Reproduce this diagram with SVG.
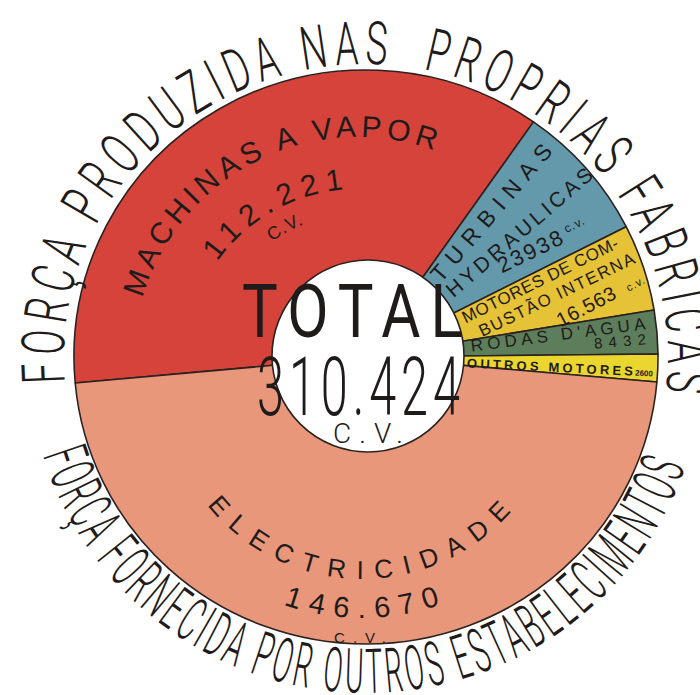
<svg xmlns="http://www.w3.org/2000/svg" width="700" height="695" viewBox="0 0 700 695">
<style>
.sec{stroke:#2b2220;stroke-width:1.6;stroke-linejoin:round}
.outer{font-family:Roboto,"Liberation Sans",sans-serif;font-weight:300;font-size:60px;fill:#1f1b1a}
.lbl{font-family:"Liberation Sans",Arial,sans-serif;fill:#1f1b1a}
.big{font-family:Roboto,"Liberation Sans",sans-serif;fill:#1f1b1a}
</style>
<defs>
<path id="topArc" d="M65.1 382.5 A302 293 0 1 1 663.4 407.9"/>
<path id="botArc" d="M42.8 455.2 A338 336 0 0 0 689.2 455.2"/>
<path id="machArc" d="M142.3 298.1 A225 225 0 0 1 438.6 151.9"/>
<path id="numArc" d="M217.2 261.5 A173 173 0 0 1 345.9 189.4"/>
<path id="cvArc" d="M266.1 246 A148 148 0 0 1 311.3 221.6"/>
<path id="elecArc" d="M207.3 505.2 A199 199 0 0 0 514.4 507.9"/>
<path id="elecNum" d="M283.3 604.6 A238 238 0 0 0 442.6 603.9"/>
</defs>
<rect width="700" height="695" fill="#fff"/>
<g id="sectors">
<path id="machinas" class="sec" fill="#d5433a" d="M366 357 L75.2 383 A292 287 0 0 1 533.5 121.9 Z"/>
<path id="turbinas" class="sec" fill="#6399ab" d="M366 357 L533.5 121.9 A292 287 0 0 1 626.2 226.7 Z"/>
<path id="motores" class="sec" fill="#e6c237" d="M366 357 L626.2 226.7 A292 287 0 0 1 654.1 310 Z"/>
<path id="rodas" class="sec" fill="#5d7e5b" d="M366 357 L654.1 310 A292 287 0 0 1 658 354 Z"/>
<path id="outros" class="sec" fill="#ebd62f" d="M366 357 L658 354 A292 287 0 0 1 656.9 382 Z"/>
<path id="electricidade" class="sec" fill="#e8977a" d="M366 357 L656.9 382 A292 287 0 0 1 75.2 383 Z"/>
</g>
<g id="centre">
<circle cx="368" cy="356" r="96" fill="#fff" stroke="#2b2220" stroke-width="1.6"/>
</g>
<g id="titles" class="outer">
<text letter-spacing="10"><textPath href="#topArc" textLength="1000" lengthAdjust="spacingAndGlyphs">FORÇA PRODUZIDA NAS&#160; PROPRIAS FABRICAS</textPath></text>
<text letter-spacing="8" font-size="62"><textPath href="#botArc" textLength="850" lengthAdjust="spacingAndGlyphs">FORÇA FORNECIDA POR OUTROS ESTABELECIMENTOS</textPath></text>
</g>
<g id="labels" class="lbl">
<text font-size="30"><textPath href="#machArc" textLength="366" lengthAdjust="spacing">MACHINAS A VAPOR</textPath></text>
<text font-size="30"><textPath href="#numArc" textLength="150" lengthAdjust="spacing">112.221</textPath></text>
<text font-size="18"><textPath href="#cvArc" startOffset="50%" text-anchor="middle" letter-spacing="1">C.V.</textPath></text>
<text font-size="26"><textPath href="#elecArc" textLength="346" lengthAdjust="spacing">ELECTRICIDADE</textPath></text>
<text font-size="29"><textPath href="#elecNum" textLength="160" lengthAdjust="spacing">146.670</textPath></text>
<text font-size="15" x="364" y="643" text-anchor="middle" letter-spacing="8">C.V.</text>
<text font-size="23" text-anchor="middle" transform="translate(491 212.5) rotate(-49.4)" y="8.2" textLength="173" lengthAdjust="spacing">TURBINAS</text>
<text font-size="21" text-anchor="middle" transform="translate(519 232) rotate(-40.7)" y="7.5" textLength="186" lengthAdjust="spacing">HYDRAULICAS</text>
<text font-size="22" text-anchor="middle" transform="translate(530 251.5) rotate(-25.8)" y="7.5" textLength="70" lengthAdjust="spacing">23938</text>
<text font-size="12" text-anchor="middle" transform="translate(575 225.5) rotate(-25.8)" y="3" letter-spacing="1">c.v.</text>
<text font-size="17" text-anchor="middle" transform="translate(540 280) rotate(-26.3)" y="6" textLength="172" lengthAdjust="spacing">MOTORES DE COM-</text>
<text font-size="17" text-anchor="middle" transform="translate(556.5 294.5) rotate(-25.8)" y="6" textLength="171" lengthAdjust="spacing">BUSTÃO INTERNA</text>
<text font-size="20" text-anchor="middle" transform="translate(586 306.5) rotate(-27.4)" y="7" textLength="64" lengthAdjust="spacing">16.563</text>
<text font-size="11" text-anchor="middle" transform="translate(636 284.5) rotate(-27.4)" y="3" letter-spacing="1">c.v.</text>
<text font-size="17" text-anchor="middle" transform="translate(558 334.5) rotate(-7.3)" y="6" textLength="176" lengthAdjust="spacing">RODAS D'AGUA</text>
<text font-size="15" text-anchor="middle" transform="translate(620 341) rotate(-5)" y="5.5" textLength="52" lengthAdjust="spacing">8432</text>
<text font-size="13" font-weight="bold" text-anchor="middle" transform="translate(550 367) rotate(2.8)" y="4.6" textLength="166" lengthAdjust="spacing">OUTROS MOTORES</text>
<text font-size="8" font-weight="bold" text-anchor="middle" transform="translate(644 373) rotate(2.8)" y="3">2600</text>
</g>
<g id="total" class="big">
<text font-size="75" font-weight="400" text-anchor="middle" transform="translate(352.5 337) scale(0.8 1)" textLength="276" lengthAdjust="spacing">TOTAL</text>
<text font-size="81" font-weight="300" text-anchor="middle" transform="translate(358.5 415) scale(0.6 1)" textLength="338" lengthAdjust="spacing">310.424</text>
<text font-size="28" font-weight="300" x="368" y="443" text-anchor="middle" textLength="70" lengthAdjust="spacing">C.V.</text>
</g>
</svg>
